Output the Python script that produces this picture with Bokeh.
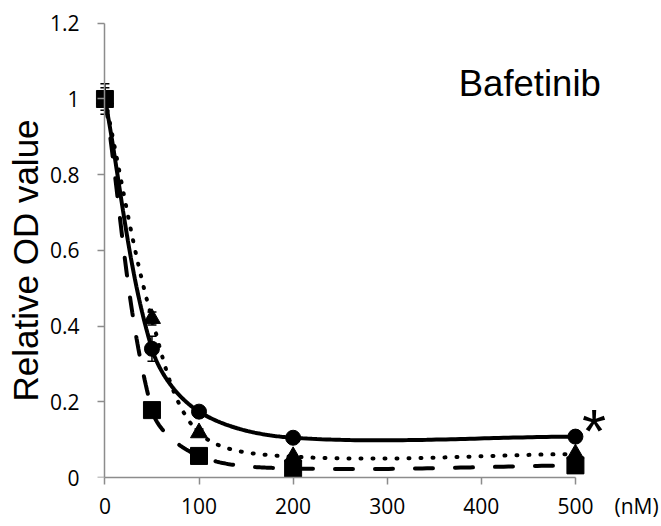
import numpy as np
from bokeh.plotting import figure
from bokeh.models import Range1d, Label, FixedTicker, ColumnDataSource, LinearAxis, Title
from bokeh.embed import file_html
from bokeh.resources import INLINE

# ---- data ----
doses = [0, 50, 100, 200, 500]
od_circle = [1.0, 0.34, 0.174, 0.105, 0.108]
od_triangle = [1.0, 0.42, 0.118, 0.055, 0.062]
od_square = [1.0, 0.178, 0.057, 0.024, 0.032]
err_circle = [0.04, 0.033, 0.01, 0.005, 0.005]
err_triangle = [0.03, 0.017, 0.01, 0.005, 0.005]
err_square = [0.02, 0.01, 0.005, 0.005, 0.005]
x_ticks = [0, 100, 200, 300, 400, 500]
x_tick_labels = ["0", "100", "200", "300", "400", "500"]
unit_tick = 565
x_unit = "(nM)"
y_ticks = [0, 0.2, 0.4, 0.6, 0.8, 1.0, 1.2]
y_tick_labels = ["0", "0.2", "0.4", "0.6", "0.8", "1", "1.2"]
drug_name = "Bafetinib"
y_title = "Relative OD value"
sig_mark = "*"

FRAME_W, FRAME_H = 565, 458
X0, X1 = -10, 590.4
Y0, Y1 = 0, 1.21
KX = FRAME_W / (X1 - X0)
KY = FRAME_H / (Y1 - Y0)


def smooth(xs, ys, n=60):
    """Excel-like smoothed line: Bezier segments, tangents weighted by
    on-screen segment lengths."""
    pts = np.column_stack([np.asarray(xs, float) * KX, np.asarray(ys, float) * KY])
    P = np.vstack([pts[0], pts, pts[-1]])
    out = []
    t = np.linspace(0, 1, n)[:, None]
    for i in range(1, len(P) - 2):
        p0, p1, p2, p3 = P[i - 1], P[i], P[i + 1], P[i + 2]
        d01 = np.hypot(*(p1 - p0))
        d12 = np.hypot(*(p2 - p1))
        d23 = np.hypot(*(p3 - p2))
        f1 = d12 / (d01 + d12) if d01 + d12 > 0 else 0.5
        f2 = d12 / (d12 + d23) if d12 + d23 > 0 else 0.5
        c1 = p1 + (p2 - p0) * f1 / 3.0
        c2 = p2 - (p3 - p1) * f2 / 3.0
        seg = (1 - t) ** 3 * p1 + 3 * (1 - t) ** 2 * t * c1 + 3 * (1 - t) * t ** 2 * c2 + t ** 3 * p2
        out.append(seg if i == 1 else seg[1:])
    arr = np.vstack(out)
    return arr[:, 0] / KX, arr[:, 1] / KY


p = figure(frame_width=FRAME_W, frame_height=FRAME_H,
           x_range=Range1d(X0, X1), y_range=Range1d(Y0, Y1),
           x_axis_location=None, y_axis_location=None,
           output_backend="svg", toolbar_location=None,
           min_border_left=95, min_border_right=0,
           min_border_top=19, min_border_bottom=45)
p.xgrid.visible = False
p.ygrid.visible = False
p.outline_line_color = None
p.background_fill_color = "white"
p.border_fill_color = "white"

AX = "#8c8c8c"
LABEL_FONT = "Open Sans"
LABEL_SIZE = "21px"

# y axis line + ticks at x = 0 (labels drawn by the next axis)
yf = LinearAxis(fixed_location=0, bounds=(0, 1.2), ticker=FixedTicker(ticks=y_ticks),
                axis_line_color=AX, axis_line_width=1.5,
                major_tick_line_color=AX, major_tick_line_width=1.5,
                major_tick_out=7, major_tick_in=0, minor_tick_line_color=None,
                major_label_text_color=None, major_label_standoff=0)
p.add_layout(yf, "left")
# y tick labels
yl = LinearAxis(ticker=FixedTicker(ticks=y_ticks),
                major_label_overrides=dict(zip(y_ticks, y_tick_labels)),
                axis_line_color=None, major_tick_line_color=None,
                major_tick_out=0, major_tick_in=0, minor_tick_line_color=None,
                major_label_text_font=LABEL_FONT, major_label_text_font_size=LABEL_SIZE,
                major_label_text_color="black", major_label_standoff=16)
p.add_layout(yl, "left")
# y title
p.add_layout(Title(text=y_title, align="left", offset=76, standoff=4,
                   text_font="Liberation Sans", text_font_size="35px",
                   text_font_style="normal", text_color="black"), "left")
# x axis line + ticks
xa = LinearAxis(bounds=(0, 500), ticker=FixedTicker(ticks=x_ticks),
                axis_line_color=AX, axis_line_width=1.5,
                major_tick_line_color=AX, major_tick_line_width=1.5,
                major_tick_out=7, major_tick_in=0, minor_tick_line_color=None,
                major_label_text_color=None, major_label_standoff=0)
p.add_layout(xa, "below")
# x tick labels + unit
xb = LinearAxis(ticker=FixedTicker(ticks=x_ticks + [unit_tick]),
                major_label_overrides=dict(zip(x_ticks + [unit_tick], x_tick_labels + [x_unit])),
                axis_line_color=None, major_tick_line_color=None,
                major_tick_out=0, major_tick_in=0, minor_tick_line_color=None,
                major_label_text_font=LABEL_FONT, major_label_text_font_size=LABEL_SIZE,
                major_label_text_color="black", major_label_standoff=7)
p.add_layout(xb, "below")

series = [
    (od_circle, err_circle, "circle", 15, None),
    (od_triangle, err_triangle, "triangle", 17, "1 11"),
    (od_square, err_square, "square", 17, "18 22"),
]

for ys, errs, marker, size, dash in series:
    sx, sy = smooth(doses, ys)
    if dash is None:
        p.line(sx, sy, line_color="black", line_width=4)
    else:
        p.line(sx, sy, line_color="black", line_width=4, line_dash=dash, line_cap="round")
    lo = [y - e for y, e in zip(ys, errs)]
    hi = [y + e for y, e in zip(ys, errs)]
    src = ColumnDataSource(dict(x=doses, y=ys, lo=lo, hi=hi))
    p.segment(x0="x", y0="lo", x1="x", y1="hi", source=src, line_color="black", line_width=1.5)
    p.scatter(x="x", y="hi", source=src, marker="dash", size=9, line_color="black", line_width=1.5)
    p.scatter(x="x", y="lo", source=src, marker="dash", size=9, line_color="black", line_width=1.5)
    p.scatter(x="x", y="y", source=src, marker=marker, size=size,
              fill_color="black", line_color="black")

p.add_layout(Label(x=376, y=1.042, text=drug_name, text_font="Liberation Sans",
                   text_font_size="36.5px", text_align="left", text_baseline="alphabetic",
                   text_color="black"))
p.add_layout(Label(x=507, y=0.123, text=sig_mark, text_font="Liberation Sans",
                   text_font_size="62px", text_align="left", text_baseline="alphabetic",
                   text_color="black"))

open("out.html", "w").write(file_html(p, INLINE))
